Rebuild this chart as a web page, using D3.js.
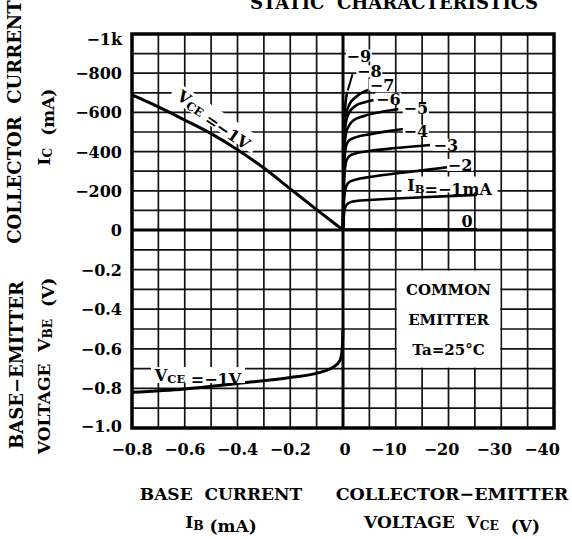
<!DOCTYPE html>
<html><head><meta charset="utf-8">
<script src="https://cdn.jsdelivr.net/npm/d3@7"></script>
<style>
body{margin:0;background:#fff;}
svg text{font-family:"DejaVu Serif",serif;font-weight:bold;fill:#000;white-space:pre;}
</style></head>
<body>
<svg id="c" width="572" height="539"></svg>
<script>
// ---- data ----
const ibTickLabels = [-0.8,-0.6,-0.4,-0.2];
const vceTickLabels = [0,-10,-20,-30,-40];
const icTickLabels = [-1000,-800,-600,-400,-200,0];
const vbeTickLabels = [-0.2,-0.4,-0.6,-0.8,-1.0];

// Ic vs IB at VCE=-1V (IB mA, Ic mA)
const icVsIb = [[-0.8,-689],[-0.7,-628],[-0.6,-561],[-0.5,-492],[-0.4,-410],[-0.3,-316],[-0.2,-210],[-0.1,-104],[0,0]];
// VBE vs IB at VCE=-1V (IB mA, VBE V)
const vbeVsIb = [[-0.8,-0.82],[-0.6,-0.803],[-0.4,-0.775],[-0.2,-0.745],[-0.09,-0.72],[-0.04,-0.695],[-0.012,-0.66],[-0.003,-0.6],[0,-0.5]];

// Ic vs VCE (V, mA) for IB steps
const ib0 = [[0,-2],[-25.4,-3]];
const ibM1 = [[0,0],[-0.25,-95],[-0.6,-125],[-1.2,-140],[-2.5,-148],[-5,-153],[-10,-161],[-15,-167],[-20,-173],[-25.4,-179]];
const ibM2 = [[0,0],[-0.25,-170],[-0.6,-222],[-1.2,-245],[-2.5,-258],[-5,-270],[-10,-288],[-15,-304],[-19.8,-320]];
const ibM3 = [[0,0],[-0.25,-270],[-0.6,-350],[-1.2,-378],[-2.5,-392],[-5,-403],[-10,-418],[-16.5,-434]];
const ibM4 = [[0,0],[-0.25,-340],[-0.6,-430],[-1.2,-458],[-2.5,-474],[-5,-488],[-8,-502],[-11.5,-515]];
const ibM5 = [[0,0],[-0.25,-410],[-0.6,-495],[-1.2,-535],[-2,-560],[-4,-582],[-7,-601],[-10.5,-617]];
const ibM6 = [[0,0],[-0.25,-460],[-0.6,-555],[-1.2,-600],[-2.3,-632],[-4,-651],[-5.8,-663]];
const ibM7 = [[0,0],[-0.25,-500],[-0.6,-590],[-1.2,-640],[-2.5,-680],[-4.8,-714]];
const ibM8 = [[0,0],[-0.2,-540],[-0.45,-640],[-0.8,-705]];
const curves = [ib0, ibM1, ibM2, ibM3, ibM4, ibM5, ibM6, ibM7, ibM8];

// ---- scales ----
const svg = d3.select("#c");
const xL = d3.scaleLinear().domain([-0.8,0]).range([132,343]);
const xR = d3.scaleLinear().domain([0,-40]).range([343,554]);
const yT = d3.scaleLinear().domain([0,-1000]).range([230,34]);
const yB = d3.scaleLinear().domain([0,-1.0]).range([230,428]);
const L = 132, R = 554, T = 34, B = 428;

// ---- grid ----
const g = svg.append("g");
const gridStyle = s => s.attr("stroke","#111").attr("stroke-width",1.7);
d3.range(-0.7,0,0.1).forEach(v=>gridStyle(g.append("line").attr("x1",xL(v)).attr("x2",xL(v)).attr("y1",T).attr("y2",B)));
d3.range(-5,-40,-5).forEach(v=>gridStyle(g.append("line").attr("x1",xR(v)).attr("x2",xR(v)).attr("y1",T).attr("y2",B)));
d3.range(-100,-1000,-100).forEach(v=>gridStyle(g.append("line").attr("y1",yT(v)).attr("y2",yT(v)).attr("x1",L).attr("x2",R)));
d3.range(-0.1,-1.0,-0.1).forEach(v=>gridStyle(g.append("line").attr("y1",yB(v)).attr("y2",yB(v)).attr("x1",L).attr("x2",R)));

// legend box (white covers grid)
svg.append("rect").attr("x",xR(-10)+1).attr("y",yB(-0.2)+1)
  .attr("width",xR(-30)-xR(-10)-2).attr("height",yB(-0.7)-yB(-0.2)-2).attr("fill","#fff");

function bg(x,y,w,h){svg.append("rect").attr("x",x-w/2).attr("y",y-h/2).attr("width",w).attr("height",h).attr("fill","#fff");}

// axes thick
svg.append("line").attr("x1",xL(0)).attr("x2",xL(0)).attr("y1",T).attr("y2",B).attr("stroke","#000").attr("stroke-width",3);
svg.append("line").attr("x1",L).attr("x2",R).attr("y1",yT(0)).attr("y2",yT(0)).attr("stroke","#000").attr("stroke-width",3);
svg.append("rect").attr("x",L).attr("y",T).attr("width",R-L).attr("height",B-T).attr("fill","none").attr("stroke","#000").attr("stroke-width",3.5);

// ---- curves ----
const lineR = d3.line().x(d=>xR(d[0])).y(d=>yT(d[1])).curve(d3.curveMonotoneX);
const lineL = d3.line().x(d=>xL(d[0])).y(d=>yT(d[1])).curve(d3.curveMonotoneX);
const lineLB = d3.line().x(d=>xL(d[0])).y(d=>yB(d[1])).curve(d3.curveMonotoneX);
curves.forEach(c=>svg.append("path").attr("d",lineR(c)).attr("fill","none").attr("stroke","#000").attr("stroke-width",2.6));
svg.append("path").attr("d",lineL(icVsIb)).attr("fill","none").attr("stroke","#000").attr("stroke-width",3);
svg.append("path").attr("d",lineLB(vbeVsIb)).attr("fill","none").attr("stroke","#000").attr("stroke-width",3);

// ---- text helpers ----
function txt(x,y,parts,size,anchor,rot){
  const t = svg.append("text").attr("x",x).attr("y",y).attr("font-size",size).attr("text-anchor",anchor||"middle").attr("dominant-baseline","central");
  if(rot) t.attr("transform",`rotate(${rot},${x},${y})`);
  parts.forEach(p=>{
    if(typeof p==="string") t.append("tspan").text(p);
    else t.append("tspan").attr("font-size",size*0.72).attr("dy",p.dy).text(p.t);
  });
  return t;
}

// curve labels (right)
const rl = [["0",-23.5,-46],["−2",-22.2,-332],["−3",-19.5,-434],["−4",-13.8,-506],["−5",-13.8,-622],["−6",-8.6,-670],["−7",-7.4,-742],["−8",-5.0,-810],["−9",-3.0,-890]];
rl.forEach(d=>{bg(xR(d[1]),yT(d[2]),d[0].length>1?26:14,12); txt(xR(d[1]),yT(d[2]),[d[0]],16);});
// leader for -8
svg.append("line").attr("x1",xR(-1.8)).attr("y1",yT(-795)).attr("x2",xR(-0.9)).attr("y2",yT(-712)).attr("stroke","#000").attr("stroke-width",2);
bg(xR(-20.2),yT(-232),96,16);
txt(xR(-20.2),yT(-232),["I",{t:"B",dy:4},{t:"",dy:-4},"=−1mA"],16);

// left labels
(function(){
  const cx=215, cy=118, rot=34;
  svg.append("rect").attr("x",cx-50).attr("y",cy-9).attr("width",100).attr("height",18).attr("fill","#fff").attr("transform",`rotate(${rot},${cx},${cy})`);
  txt(cx,cy,["V",{t:"CE",dy:4},{t:"",dy:-4}," =−1V"],16,"middle",rot);
})();
bg(198,375,94,16);
txt(198,375,["V",{t:"CE",dy:4},{t:"",dy:-4}," =−1V"],16);

// legend text
const lx = xR(-20);
txt(lx,290,["COMMON"],15);
txt(lx,320,["EMITTER"],15);
txt(lx,350,["Ta=25°C"],15);

// ---- tick labels ----
const fmtIc = v=> v===0?"0":(v===-1000?"−1k":"−"+Math.abs(v));
icTickLabels.forEach(v=>txt(122, v===-1000?yT(v)+5:yT(v), [fmtIc(v)],16,"end"));
vbeTickLabels.forEach(v=>txt(122, v===-1.0?yB(v)-2:yB(v), ["−"+Math.abs(v).toFixed(1)],16,"end"));
ibTickLabels.forEach(v=>txt(xL(v), 449, ["−"+Math.abs(v).toFixed(1)],16));
vceTickLabels.forEach(v=>txt(xR(v)-(v===0?-2:(v===-40?12:7)), 449, [v===0?"0":"−"+Math.abs(v)],16));

// ---- axis titles ----
txt(221,494,["BASE  CURRENT"],17);
txt(221,522,["I",{t:"B",dy:4},{t:"",dy:-4}," (mA)"],17);
txt(452,494,["COLLECTOR−EMITTER"],17.5);
txt(452,522,["VOLTAGE  V",{t:"CE",dy:4},{t:"",dy:-4},"  (V)"],17);

txt(14,122,["COLLECTOR  CURRENT"],18,"middle",-90);
txt(44,127,["I",{t:"C",dy:4},{t:"",dy:-4},"  (mA)"],17,"middle",-90);
txt(16,365,["BASE−EMITTER"],18,"middle",-90);
txt(44,366,["VOLTAGE  V",{t:"BE",dy:4},{t:"",dy:-4},"  (V)"],17,"middle",-90);

// title (clipped at top)
txt(394,2,["STATIC  CHARACTERISTICS"],18);
</script>
</body></html>
